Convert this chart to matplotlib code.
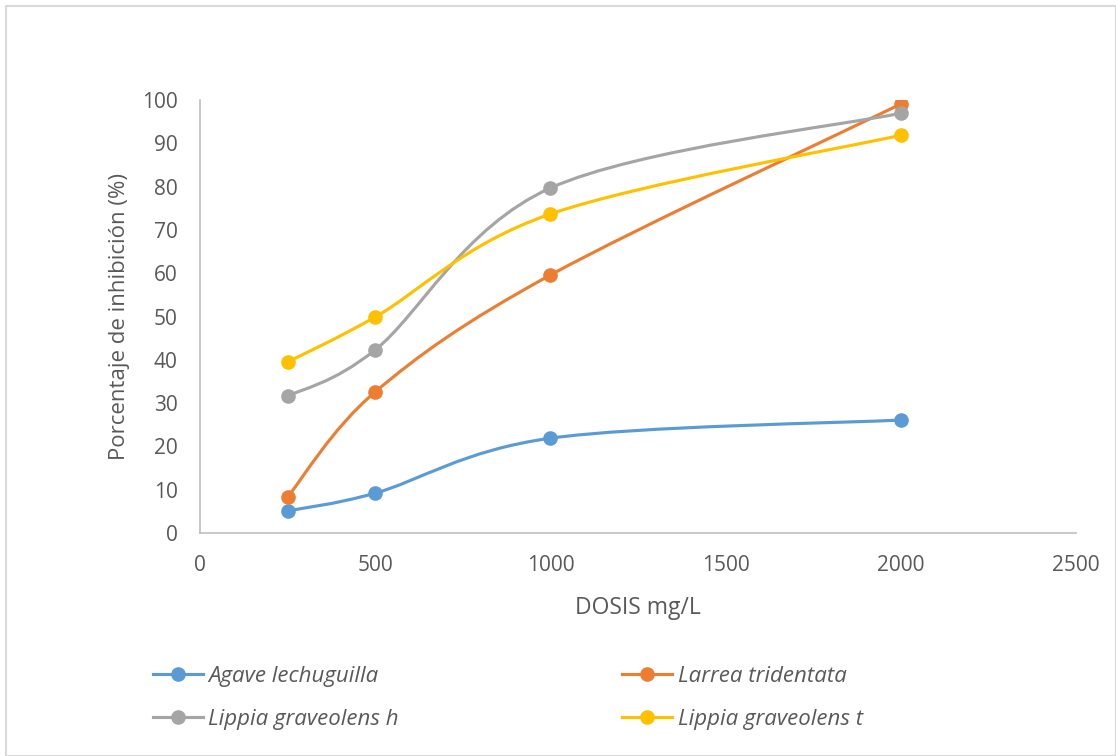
import numpy as np
import matplotlib
matplotlib.use('Agg')
import matplotlib.pyplot as plt
from matplotlib.path import Path
from matplotlib.patches import PathPatch, Rectangle
from matplotlib.lines import Line2D

plt.rcParams['font.family'] = ['Open Sans', 'DejaVu Sans']

dosis = [250, 500, 1000, 2000]
agave = [5.1, 9.2, 21.9, 26.1]
larrea = [8.3, 32.6, 59.6, 99.1]
lippia_h = [31.6, 42.3, 79.7, 97.0]
lippia_t = [39.5, 49.9, 73.7, 91.9]

series_names = ['Agave lechuguilla', 'Larrea tridentata',
                'Lippia graveolens h', 'Lippia graveolens t']
colors = ['#5B9BD5', '#ED7D31', '#A5A5A5', '#FFC000']
txt_col = '#595959'


def smooth_path(xs, ys):
    # excel-like smoothed line: cubic bezier through the points
    p = np.column_stack([xs, ys]).astype(float)
    n = len(p)
    verts = [p[0]]
    codes = [Path.MOVETO]
    for i in range(n - 1):
        p0 = p[i - 1] if i > 0 else p[i]
        p3 = p[i + 2] if i + 2 < n else p[i + 1]
        c1 = p[i] + (p[i + 1] - p0) / 6
        c2 = p[i + 1] - (p3 - p[i]) / 6
        verts += [c1, c2, p[i + 1]]
        codes += [Path.CURVE4] * 3
    return Path(verts, codes)


fig = plt.figure(figsize=(11.16, 7.56), dpi=100)
fig.patches.append(Rectangle((0.005, 0.0), 0.995, 0.992, transform=fig.transFigure,
                             fill=False, edgecolor='#D9D9D9', linewidth=1.5))
ax = fig.add_axes([0.1792, 0.295, 0.785, 0.5725])

handles = []
for vals, name, c in zip([agave, larrea, lippia_h, lippia_t], series_names, colors):
    ax.add_patch(PathPatch(smooth_path(dosis, vals), facecolor='none',
                           edgecolor=c, linewidth=2.25, capstyle='round', zorder=2))
    ax.plot(dosis, vals, 'o', color=c, markersize=9.5, zorder=3)
    handles.append(Line2D([], [], color=c, linewidth=2.25, marker='o', markersize=9.5))

ax.set_xlim(0, 2500)
ax.set_ylim(0, 100)
ax.set_xticks(range(0, 2501, 500))
ax.set_yticks(range(0, 101, 10))
for s in ['top', 'right']:
    ax.spines[s].set_visible(False)
for s in ['left', 'bottom']:
    ax.spines[s].set_color('#BFBFBF')
    ax.spines[s].set_linewidth(1.2)
ax.tick_params(length=0, labelsize=15, labelcolor=txt_col)
ax.tick_params(axis='y', pad=16)
ax.tick_params(axis='x', pad=16)
ax.set_xlabel('DOSIS mg/L', fontsize=16.5, color=txt_col, labelpad=14)
ax.set_ylabel('Porcentaje de inhibición (%)', fontsize=16, color=txt_col, labelpad=9)

order = [0, 2, 1, 3]
leg = fig.legend([handles[i] for i in order], [series_names[i] for i in order],
                 ncol=2, loc='upper left', bbox_to_anchor=(0.119, 0.146),
                 frameon=False, columnspacing=10.05, handlelength=2.25,
                 handletextpad=0.25, labelspacing=1.0,
                 prop={'style': 'italic', 'size': 16})
for t in leg.get_texts():
    t.set_color(txt_col)

fig.savefig('out.png', dpi=100)
